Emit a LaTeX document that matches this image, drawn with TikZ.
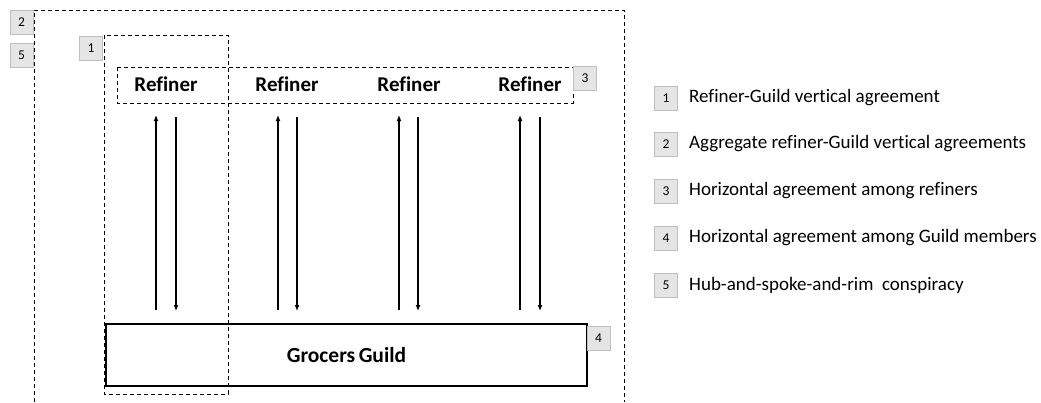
\documentclass[tikz,border=0pt]{standalone}
\usepackage{fontspec}
\setmainfont[Ligatures=NoCommon]{Carlito}
\usetikzlibrary{arrows.meta}
\begin{document}
\begin{tikzpicture}[x=1pt,y=-1pt,
  badge/.style={draw=black!25,fill=black!10,minimum width=23pt,minimum height=24pt,inner sep=0pt,font=\fontsize{13.5}{15}\selectfont},
  dbox/.style={draw,dash pattern=on 4pt off 3pt,line width=1pt},
  reflabel/.style={font=\fontsize{21}{24}\selectfont\bfseries},
  legtext/.style={anchor=west,font=\fontsize{19}{22}\selectfont,inner sep=0pt},
  arr/.style={line width=1.4pt,-{Latex[length=6pt,width=5pt]}}]
\useasboundingbox (0,0) rectangle (1041,402);
% outer (2/5)
\coordinate (oa) at (34,402);
\coordinate (ob) at (34,10);
\coordinate (oc) at (624,10);
\coordinate (od) at (624,402);
\draw[dbox] (oa) -- (ob) -- (oc) -- (od);
% box 1
\draw[dbox] (104,35) rectangle (228,394);
% box 3
\draw[dbox] (117,67) rectangle (573,103);
% refiners
\node[reflabel] (r1) at (166,84) {Refiner};
\node[reflabel] (r2) at (287,84) {Refiner};
\node[reflabel] (r3) at (409,84) {Refiner};
\node[reflabel] (r4) at (530,84) {Refiner};
% guild
\node[draw,line width=1.1pt,minimum width=481pt,minimum height=62pt,inner sep=0pt,
  font=\fontsize{21.5}{24}\selectfont\bfseries] (g) at (346.5,355) {Grocers\,Guild};
% arrows
\foreach \i/\u/\d in {1/156/176,2/278/297,3/399/418,4/520/540}{
  \coordinate (ub\i) at (\u,310);
  \coordinate (ut\i) at (\u,115);
  \coordinate (dt\i) at (\d,117);
  \coordinate (db\i) at (\d,311);
  \draw[arr] (ub\i) -- (ut\i);
  \draw[arr] (dt\i) -- (db\i);
}
% badges on diagram
\node[badge] (b2) at (21.5,22) {2};
\node[badge] (b5) at (21.5,55) {5};
\node[badge] (b1) at (91,48) {1};
\node[badge] (b3) at (585,78) {3};
\node[badge] (b4) at (598.5,338) {4};
% legend
\foreach \n/\y/\t in {1/98/{Refiner-Guild vertical agreement},
  2/144/{Aggregate refiner-Guild vertical agreements},
  3/191/{Horizontal agreement among refiners},
  4/238/{Horizontal agreement among Guild members},
  5/285/{Hub-and-spoke-and-rim\ \ conspiracy}}{
  \node[badge] (lb\n) at (666,\y) {\n};
  \node[legtext] (lt\n) at (689,\y) {\t};
}
\end{tikzpicture}
\end{document}
